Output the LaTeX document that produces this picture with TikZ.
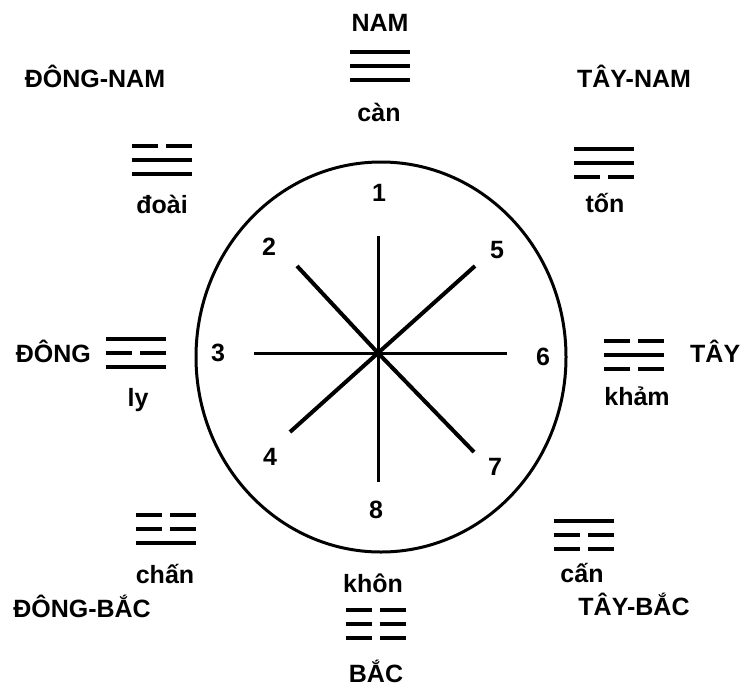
\documentclass[tikz,border=0pt]{standalone}
\usepackage{fontspec}
\setmainfont{Liberation Sans}
\usepackage{tikz}
\usetikzlibrary{positioning}

% one trigram: centre x, y of top line, lines from the top (1 solid, 0 broken)
\newcommand{\quai}[3]{%
  \foreach \hao [count=\k from 0] in {#3}{
    \ifnum\hao=1
      \draw[haoline] (#1-30,#2+14*\k) -- (#1+30,#2+14*\k);
    \else
      \draw[haoline] (#1-30,#2+14*\k) -- (#1-4,#2+14*\k);
      \draw[haoline] (#1+4,#2+14*\k) -- (#1+30,#2+14*\k);
    \fi}}

\begin{document}
\begin{tikzpicture}[
  x=1pt,y=-1pt,
  font=\fontsize{25}{30}\selectfont\bfseries,
  lbl/.style={inner sep=0pt,anchor=base},
  num/.style={inner sep=0pt,anchor=base},
  haoline/.style={line width=4pt},
  rim/.style={line width=3pt},
  spoke/.style={line width=3pt},
  dspoke/.style={line width=4pt},
]
\useasboundingbox (0,0) rectangle (743,688);

% circle and spokes
\coordinate (o) at (378,353);
\draw[rim] (381,357) ellipse [x radius=185pt, y radius=195pt];
\coordinate (s1) at (378,236);
\coordinate (s8) at (378,482);
\coordinate (s3) at (254,353);
\coordinate (s6) at (507,353);
\coordinate (s2) at (297,266);
\coordinate (s5) at (475,266);
\coordinate (s4) at (290,432);
\coordinate (s7) at (474,452);
\draw[spoke] (s1) -- (o) -- (s8);
\draw[spoke] (s3) -- (o) -- (s6);
\draw[dspoke] (s2) -- (o) -- (s7);
\draw[dspoke] (s5) -- (o) -- (s4);

% numbers
\node[num] (n1) at (379,201) {1};
\node[num] (n2) at (269,255) {2};
\node[num] (n3) at (218,361) {3};
\node[num] (n4) at (270,465) {4};
\node[num] (n5) at (497,258) {5};
\node[num] (n6) at (543,365) {6};
\node[num] (n7) at (495,475) {7};
\node[num] (n8) at (376,518) {8};

% directions
\node[lbl] (nam)     at (380,31)  {NAM};
\node[lbl] (dongnam) at (95,87)   {ĐÔNG-NAM};
\node[lbl] (taynam)  at (634,87)  {TÂY-NAM};
\node[lbl,anchor=base east] (dong) at (91,362)  {ĐÔNG};
\node[lbl,anchor=base west] (tay)  at (690,362) {TÂY};
\node[lbl] (dongbac) at (82,617)  {ĐÔNG-BẮC};
\node[lbl] (taybac)  at (634,615) {TÂY-BẮC};
\node[lbl] (bac)     at (376,682) {BẮC};

% trigrams and their names
\quai{380}{52}{1,1,1}
\node[lbl] (can)   at (379,121) {càn};
\quai{162}{146}{0,1,1}
\node[lbl] (doai)  at (162,213) {đoài};
\quai{604}{149}{1,1,0}
\node[lbl] (ton)   at (605,212) {tốn};
\quai{136}{339}{1,0,1}
\node[lbl] (ly)    at (138,406) {ly};
\quai{634}{341}{0,1,0}
\node[lbl] (kham)  at (637,405) {khảm};
\quai{166}{515}{0,0,1}
\node[lbl] (chan)  at (165,583) {chấn};
\quai{584}{521}{1,0,0}
\node[lbl] (cann)  at (582,582) {cấn};
\quai{376}{610}{0,0,0}
\node[lbl] (khon)  at (373,592) {khôn};
\end{tikzpicture}
\end{document}
